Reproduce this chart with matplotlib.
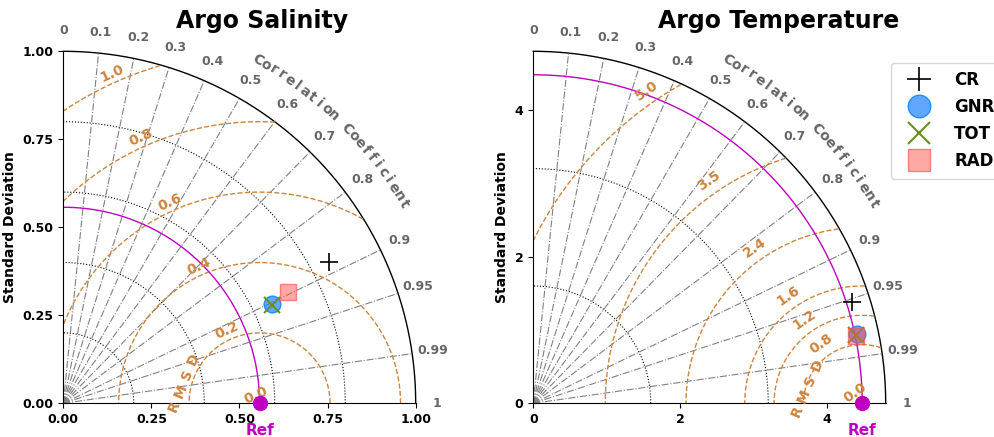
import numpy as np
import matplotlib.pyplot as plt
from matplotlib.lines import Line2D

plt.rcParams['font.family'] = 'DejaVu Sans'
plt.rcParams['font.weight'] = 'bold'

models = ['CR', 'GNR', 'TOT', 'RAD']
corr_ticks = [0, 0.1, 0.2, 0.3, 0.4, 0.5, 0.6, 0.7, 0.8, 0.9, 0.95, 0.99, 1]
corr_tick_labels = ['0', '0.1', '0.2', '0.3', '0.4', '0.5', '0.6', '0.7',
                    '0.8', '0.9', '0.95', '0.99', '1']

# Argo Salinity
sal_ref_std = 0.557
sal_std = [0.854, 0.656, 0.654, 0.711]
sal_corr = [0.882, 0.902, 0.905, 0.895]
sal_std_ticks = [0.2, 0.4, 0.6, 0.8]
sal_rms_ticks = [0.0, 0.2, 0.4, 0.6, 0.8, 1.0]
sal_axis_max = 1.0
sal_xyticks = [0.0, 0.25, 0.5, 0.75, 1.0]

# Argo Temperature
tmp_ref_std = 4.48
tmp_std = [4.555, 4.512, 4.493, 4.493]
tmp_corr = [0.953, 0.978, 0.978, 0.979]
tmp_std_ticks = [1.6, 3.2]
tmp_rms_ticks = [0.0, 0.8, 1.2, 1.6, 2.4, 3.5, 5.0]
tmp_axis_max = 4.8
tmp_xyticks = [0, 2, 4]

GRAY = '#666666'
RMSCOL = '#cd853f'
REFCOL = '#bf00bf'

marker_styles = {
    'CR': dict(marker='+', color='k', markersize=13, markeredgewidth=1.2),
    'GNR': dict(marker='o', markersize=12, markerfacecolor=(0.12, 0.51, 1.0, 0.7),
                markeredgecolor=(0.12, 0.56, 1.0, 1.0), markeredgewidth=1.0),
    'TOT': dict(marker='x', color='olivedrab', markersize=12, markeredgewidth=1.5),
    'RAD': dict(marker='s', markersize=12, markerfacecolor=(1.0, 0.33, 0.3, 0.5),
                markeredgecolor=(0.95, 0.35, 0.35, 0.7), markeredgewidth=1.0),
}


def taylor(ax, title, title_x, ref, stds, corrs, amax, std_ticks, rms_ticks,
           ticks, rms_angle, rms_off, rmsd_r):
    th = np.linspace(0, np.pi / 2, 300)
    # std arcs
    for s in std_ticks:
        ax.plot(s * np.cos(th), s * np.sin(th), ls=':', color='k', lw=0.8)
    ax.plot(amax * np.cos(th), amax * np.sin(th), color='k', lw=1.0, clip_on=False)
    # correlation lines + labels
    for c, lab in zip(corr_ticks, corr_tick_labels):
        a = np.arccos(c)
        if 0 < c < 1:
            ax.plot([0, amax * np.cos(a)], [0, amax * np.sin(a)], ls='-.',
                    color='gray', lw=0.8)
        ax.text(1.06 * amax * np.cos(a), 1.06 * amax * np.sin(a), lab,
                color=GRAY, fontsize=9, ha='center', va='center')
    word = 'Correlation Coefficient'
    angs = np.linspace(60.5, 30.4, len(word))
    for ch, a in zip(word, angs):
        ar = np.radians(a)
        ax.text(1.12 * amax * np.cos(ar), 1.12 * amax * np.sin(ar), ch,
                color=GRAY, fontsize=10, rotation=a - 90,
                ha='center', va='center', rotation_mode='anchor')
    # rms contours
    tt = np.linspace(0, np.pi, 600)
    ra = np.radians(rms_angle)
    for r in rms_ticks:
        if r > 0:
            x = ref + r * np.cos(tt)
            y = r * np.sin(tt)
            bad = (x < 0) | (np.hypot(x, y) > amax)
            x[bad] = np.nan
            y[bad] = np.nan
            ax.plot(x, y, ls='--', color=RMSCOL, lw=1.0)
        ax.text(ref + (r + rms_off) * np.cos(ra), (r + rms_off) * np.sin(ra),
                '%.1f' % r, color=RMSCOL, fontsize=10, rotation=rms_angle - 90,
                ha='center', va='center', rotation_mode='anchor')
    # RMSD word
    ca = np.radians(165)
    cx, cy = ref + rmsd_r * np.cos(ca), rmsd_r * np.sin(ca)
    step = 17 / 352 * amax
    d = np.radians(67)
    for i, ch in enumerate('RMSD'):
        k = i - 1.5
        ax.text(cx + k * step * np.cos(d), cy + k * step * np.sin(d), ch,
                color=RMSCOL, fontsize=10, rotation=67, ha='center',
                va='center', rotation_mode='anchor', clip_on=False)
    # reference
    ax.plot(ref * np.cos(th), ref * np.sin(th), color=REFCOL, lw=1.0)
    ax.plot([ref], [0], 'o', color=REFCOL, markersize=10, clip_on=False, zorder=5)
    ax.text(ref, -0.076 * amax, 'Ref', color=REFCOL, fontsize=11,
            ha='center', va='center')
    # models
    for m, s, c in zip(models, stds, corrs):
        ax.plot([s * c], [s * np.sin(np.arccos(c))], ls='none', zorder=6,
                **marker_styles[m])
    ax.set_xlim(0, amax)
    ax.set_ylim(0, amax)
    ax.set_xticks(ticks)
    ax.set_yticks(ticks)
    ax.tick_params(labelsize=9)
    ax.spines['top'].set_visible(False)
    ax.spines['right'].set_visible(False)
    ax.set_ylabel('Standard Deviation', fontsize=10, fontweight='bold')
    ax.text(title_x, 1.086, title, transform=ax.transAxes, ha='center',
            va='center', fontsize=17, fontweight='bold')


fig = plt.figure(figsize=(9.94, 4.37), dpi=100)
ax1 = fig.add_axes([63.3 / 994, 33.7 / 437, 352.4 / 994, 352 / 437])
ax2 = fig.add_axes([533.3 / 994, 33.7 / 437, 352.4 / 994, 352 / 437])

taylor(ax1, 'Argo Salinity', 0.564, sal_ref_std, sal_std, sal_corr, sal_axis_max,
       sal_std_ticks, sal_rms_ticks, sal_xyticks, 114, 0.026, 0.223)
taylor(ax2, 'Argo Temperature', 0.697, tmp_ref_std, tmp_std, tmp_corr, tmp_axis_max,
       tmp_std_ticks, tmp_rms_ticks, tmp_xyticks, 124.6, 0.18, 0.78)

handles = [Line2D([], [], ls='none', **marker_styles[m]) for m in models]
fig.legend(handles, models, loc='upper left', bbox_to_anchor=(891 / 994, 1 - 62.5 / 437),
           prop={'weight': 'bold', 'size': 12}, markerscale=1.35,
           labelspacing=0.55, handlelength=2.3, handletextpad=1.0,
           borderpad=0.5, borderaxespad=0.0)

fig.savefig('out.png', dpi=100)
